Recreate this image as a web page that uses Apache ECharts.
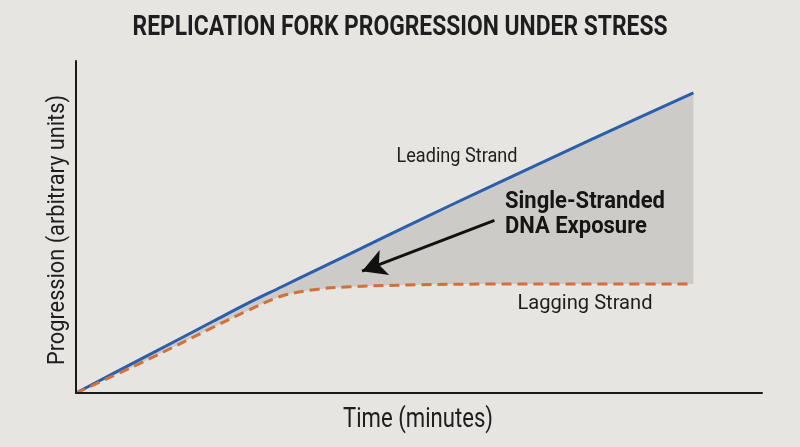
<!DOCTYPE html>
<html style="height: 100%">

<head>
  <meta charset="utf-8">
  <script type="text/javascript" src="https://cdn.jsdelivr.net/npm/echarts/dist/echarts.min.js"></script>
  <style>
    html, body { margin: 0; padding: 0; background: #e6e5e2; }
    #container { width: 800px; height: 447px; }
  </style>
</head>

<body>
  <div id="container"></div>
  <script type="text/javascript">
    // time (minutes), axis 0..100
    var times = [0, 10, 20, 25, 30, 35, 40, 50, 60, 70, 80, 90];
    var leading = [0, 10.8, 21.6, 27.0, 32.0, 37.0, 42.0, 52.0, 61.8, 71.4, 81.0, 90.4];
    var lagging = [0, 9.6, 19.8, 24.8, 29.2, 31.2, 32.0, 32.6, 32.8, 32.8, 32.8, 32.8];
    // arrow pointing into the gap: [start, end]
    var arrowFrom = [61, 52];
    var arrowTo = [41.7, 36.7];

    var font = 'Roboto, "Liberation Sans", sans-serif';
    var bg = '#e6e5e2';
    var smoothing = 0.35;

    function pairs(ys) {
      var out = [];
      for (var i = 0; i < times.length; i++) {
        out.push([times[i], ys[i]]);
      }
      return out;
    }
    // value first, time second: with two value axes echarts stacks the first column
    function stackRows(ys) {
      var out = [];
      for (var i = 0; i < times.length; i++) {
        out.push([ys[i], times[i]]);
      }
      return out;
    }
    var gap = [];
    for (var i = 0; i < times.length; i++) {
      gap.push(leading[i] - lagging[i]);
    }

    // squeeze a text to the width it has in the picture (the original uses a condensed face)
    function squeeze(text, f, w) {
      var t = new echarts.graphic.Text({ style: { text: text, font: f } });
      return w / t.getBoundingRect().width;
    }
    function label(text, f, x, y, w, opts) {
      var el = {
        type: 'text', x: x, y: y, z: 100,
        scaleX: squeeze(text, f, w),
        style: { text: text, fill: '#1e1e1e', font: f, align: 'center', verticalAlign: 'middle' }
      };
      for (var k in opts) el[k] = opts[k];
      return el;
    }

    var ssFont = 'bold 24px ' + font;
    var ssScale = squeeze('Single-Stranded', ssFont, 160);

    var myChart = echarts.init(document.getElementById("container"));
    var option = {
      backgroundColor: bg,
      animation: false,
      grid: { left: 76, right: 38, top: 61, bottom: 54 },
      xAxis: {
        type: 'value', min: 0, max: 100, z: 10,
        axisLine: { lineStyle: { color: '#1a1a1a', width: 2 } },
        axisTick: { show: false },
        axisLabel: { show: false },
        splitLine: { show: false }
      },
      yAxis: {
        type: 'value', min: 0, max: 100, z: 10,
        axisLine: { show: true, lineStyle: { color: '#1a1a1a', width: 2 } },
        axisTick: { show: false },
        axisLabel: { show: false },
        splitLine: { show: false }
      },
      graphic: [
        label('REPLICATION FORK PROGRESSION UNDER STRESS', 'bold 27px ' + font, 400, 28, 535),
        label('Time (minutes)', '28px ' + font, 418, 420, 150),
        label('Progression (arbitrary units)', '24px ' + font, 58, 230, 270, { rotation: Math.PI / 2 }),
        label('Leading Strand', '21px ' + font, 457, 157, 121),
        label('Lagging Strand', '21px ' + font, 585, 304, 135),
        {
          type: 'text', x: 505, y: 202, z: 100, scaleX: ssScale,
          style: { text: 'Single-Stranded', fill: '#151515', font: ssFont, verticalAlign: 'middle' }
        },
        {
          type: 'text', x: 505, y: 227, z: 100, scaleX: ssScale,
          style: { text: 'DNA Exposure', fill: '#151515', font: ssFont, verticalAlign: 'middle' }
        }
      ],
      series: [
        {
          name: 'base', type: 'line', stack: 'band', data: stackRows(lagging),
          encode: { x: 1, y: 0 },
          smooth: smoothing, symbol: 'none', lineStyle: { opacity: 0 }, silent: true
        },
        {
          name: 'band', type: 'line', stack: 'band', data: stackRows(gap),
          encode: { x: 1, y: 0 },
          smooth: smoothing, symbol: 'none', lineStyle: { opacity: 0 },
          areaStyle: { color: '#cdcbc8', opacity: 1 }, silent: true
        },
        {
          name: 'Leading Strand', type: 'line', data: pairs(leading),
          smooth: smoothing, symbol: 'none',
          lineStyle: { color: '#2b5eab', width: 3 }
        },
        {
          name: 'Lagging Strand', type: 'line', data: pairs(lagging),
          smooth: smoothing, symbol: 'none',
          lineStyle: { color: '#d2703a', width: 3, type: [10, 6] },
          markLine: {
            silent: true,
            symbol: ['none', 'arrow'],
            symbolSize: [20, 24],
            lineStyle: { color: '#111', width: 3, type: 'solid' },
            label: { show: false },
            data: [[{ coord: arrowFrom }, { coord: arrowTo }]]
          }
        }
      ]
    };
    myChart.setOption(option);
  </script>
</body>

</html>
